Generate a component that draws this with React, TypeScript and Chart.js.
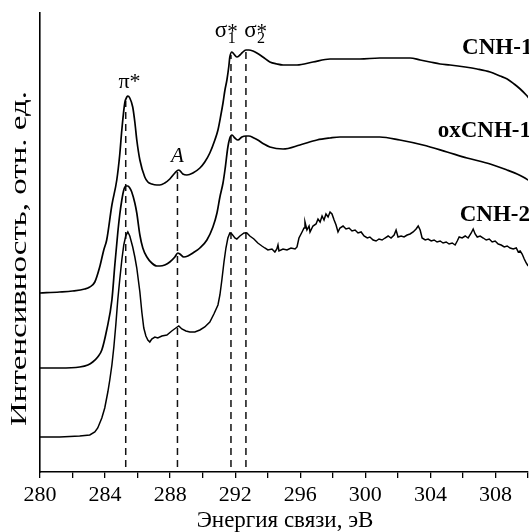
import React, { useEffect, useRef } from "react";
import { Chart, registerables } from "chart.js";

Chart.register(...registerables);

// ---- data (energy in eV, intensity in arbitrary units, curves already offset) ----
const energyCNH1 = [
  280.0, 281.2, 282.0, 282.75, 283.06, 283.37, 283.67, 283.92, 284.1, 284.42, 284.72, 284.9, 285.03, 285.21,
  285.34, 285.4, 285.52, 285.7, 285.83, 285.95, 286.14, 286.44, 286.63, 286.87, 287.18, 287.37, 287.67, 287.98,
  288.29, 288.53, 288.78, 289.03, 289.4, 289.83, 290.13, 290.44, 290.75, 290.94, 291.12, 291.25, 291.37, 291.49,
  291.61, 291.67, 291.8, 291.92, 292.1, 292.29, 292.41, 292.66, 292.84, 293.09, 293.33, 293.7, 294.13, 294.56,
  294.94, 295.8, 296.78, 297.83, 298.87, 299.66, 300.89, 301.82, 302.75, 303.37, 303.98, 304.6, 305.21, 306.14,
  306.87, 307.67, 308.28, 308.72, 309.15, 309.52, 309.89, 310.1,
];
const intensityCNH1 = [
  179, 180, 181, 183, 185, 190, 205, 222, 232, 267, 292, 317, 342, 369,
  375, 376, 374, 365, 350, 332, 312, 295, 290, 288, 287, 287, 289, 293,
  299, 302, 298, 297, 299, 304, 310, 319, 332, 342, 357, 369, 382, 392,
  406, 415, 420, 418, 415, 417, 419, 422, 422, 421, 419, 415, 410, 408,
  407, 407, 410, 413, 413, 413, 414, 414, 414, 412, 410, 408, 407, 405,
  403, 400, 396, 393, 388, 383, 377, 373,
];

const energyOxCNH1 = [
  280.0, 281.21, 282.44, 282.94, 283.24, 283.55, 283.8, 284.1, 284.42, 284.6, 284.78, 284.9, 285.03, 285.15,
  285.27, 285.4, 285.52, 285.64, 285.83, 285.95, 286.14, 286.32, 286.57, 286.87, 287.18, 287.37, 287.67, 287.98,
  288.29, 288.47, 288.6, 288.84, 289.09, 289.4, 289.83, 290.26, 290.63, 290.88, 291.06, 291.25, 291.37, 291.55,
  291.67, 291.8, 291.98, 292.17, 292.41, 292.66, 292.84, 293.15, 293.39, 293.76, 294.13, 294.94, 295.98, 297.03,
  297.83, 298.44, 299.66, 300.89, 302.12, 303.54, 305.02, 306.25, 307.67, 308.71, 309.33, 309.7, 310.1,
];
const intensityOxCNH1 = [
  104, 104, 105, 107, 110, 115, 122, 142, 172, 207, 239, 257, 272, 282,
  286, 286, 284, 280, 269, 259, 237, 224, 215, 209, 206, 206, 207, 210,
  215, 219, 218, 215, 216, 219, 224, 232, 245, 259, 275, 289, 302, 325,
  334, 337, 334, 332, 335, 336, 336, 334, 332, 328, 325, 323, 327, 332,
  334, 335, 335, 335, 332, 327, 320, 314, 308, 302, 298, 295, 291,
];

const energyCNH2 = [
  280.0, 281.21, 282.44, 283.06, 283.37, 283.55, 283.8, 283.98, 284.17, 284.29, 284.42, 284.54, 284.66, 284.78,
  284.9, 285.03, 285.15, 285.27, 285.4, 285.52, 285.7, 285.83, 285.95, 286.14, 286.26, 286.38, 286.51, 286.63,
  286.75, 286.87, 287.06, 287.24, 287.49, 287.8, 288.1, 288.35, 288.53, 288.72, 288.97, 289.21, 289.52, 289.83,
  290.13, 290.44, 290.69, 290.94, 291.06, 291.18, 291.31, 291.43, 291.55, 291.67, 291.8, 291.98, 292.1, 292.29,
  292.54, 292.72, 292.9, 293.15, 293.39, 293.64, 293.82, 294.01, 294.26, 294.44, 294.56, 294.63, 294.69, 294.94,
  295.18, 295.43, 295.68, 295.8, 295.92, 296.11, 296.23, 296.29, 296.41, 296.54, 296.6, 296.78, 296.97, 297.09,
  297.22, 297.34, 297.46, 297.58, 297.71, 297.83, 297.95, 298.08, 298.2, 298.32, 298.44, 298.63, 298.81, 299.0,
  299.18, 299.37, 299.55, 299.74, 299.92, 300.12, 300.28, 300.48, 300.66, 300.84, 301.03, 301.21, 301.4, 301.58,
  301.77, 301.89, 302.01, 302.2, 302.38, 302.57, 302.75, 302.94, 303.12, 303.25, 303.37, 303.49, 303.68, 303.86,
  304.05, 304.23, 304.41, 304.6, 304.78, 304.97, 305.15, 305.34, 305.52, 305.65, 305.77, 305.95, 306.14, 306.32,
  306.51, 306.63, 306.75, 306.88, 307.06, 307.25, 307.43, 307.62, 307.8, 307.98, 308.17, 308.35, 308.54, 308.72,
  308.9, 309.09, 309.28, 309.4, 309.52, 309.64, 309.77, 309.89, 310.01,
];
const intensityCNH2 = [
  35, 35, 36, 37, 40, 44, 54, 64, 80, 92, 107, 125, 147, 172,
  192, 212, 227, 236, 240, 236, 225, 215, 204, 180, 160, 144, 136, 132,
  130, 133, 135, 134, 136, 137, 141, 144, 146, 143, 141, 140, 140, 142,
  145, 150, 158, 167, 177, 192, 210, 224, 234, 239, 238, 234, 233, 236,
  239, 239, 236, 233, 229, 226, 224, 222, 223, 220, 223, 227, 221, 223,
  222, 224, 223, 225, 234, 240, 244, 250, 242, 246, 240, 246, 248, 253,
  250, 256, 252, 258, 255, 260, 258, 252, 247, 240, 244, 246, 243, 244,
  241, 242, 239, 240, 236, 234, 235, 232, 231, 233, 232, 234, 236, 234,
  237, 242, 235, 236, 235, 237, 238, 240, 243, 246, 242, 234, 232, 233,
  231, 232, 230, 231, 229, 230, 228, 229, 227, 231, 235, 234, 236, 234,
  239, 243, 238, 235, 236, 234, 232, 233, 230, 231, 228, 227, 225, 226,
  224, 223, 224, 220, 221, 218, 213, 209, 206,
];

const seriesNames = ["CNH-1", "oxCNH-1", "CNH-2"];
const nameEnergies = [305.95, 304.45, 305.8];
const nameIntensities = [418, 335, 251];

const dashEnergies = [285.27, 288.45, 291.74, 292.66];
const dashTops = [371, 300, 417, 420];
const dashBottom = 5;

const xTicks = [280, 284, 288, 292, 296, 300, 304, 308];
const xTitle = "Энергия связи, эВ";
const yTitle = "Интенсивность, отн. ед.";

const SERIF = '"Liberation Serif", "Times New Roman", serif';

const zip = (xs: number[], ys: number[]) => xs.map((x, i) => ({ x, y: ys[i] }));

const textPlugin = {
  id: "texts",
  afterDraw(chart: any) {
    const { ctx, chartArea, scales } = chart;
    const xs = scales.x;
    const ys = scales.y;
    ctx.save();
    ctx.fillStyle = "#000";
    ctx.textBaseline = "alphabetic";

    // series names
    ctx.font = `bold 23px ${SERIF}`;
    ctx.textAlign = "left";
    seriesNames.forEach((n, i) => {
      ctx.fillText(n, xs.getPixelForValue(nameEnergies[i]), ys.getPixelForValue(nameIntensities[i]));
    });

    // π*
    ctx.font = `22px ${SERIF}`;
    ctx.textAlign = "center";
    ctx.fillText("π*", xs.getPixelForValue(285.5), ys.getPixelForValue(384));

    // A
    ctx.font = `italic 21px ${SERIF}`;
    ctx.fillText("A", xs.getPixelForValue(288.45), ys.getPixelForValue(310));

    // σ1* σ2*
    const sig = (e: number, sub: string) => {
      const px = xs.getPixelForValue(e);
      const py = ys.getPixelForValue(435);
      ctx.textAlign = "left";
      ctx.font = `23px ${SERIF}`;
      ctx.fillText("σ", px, py);
      const w = ctx.measureText("σ").width;
      ctx.font = `16px ${SERIF}`;
      ctx.fillText(sub, px + w + 0.5, py + 6);
      ctx.font = `21px ${SERIF}`;
      ctx.fillText("*", px + w, py + 1);
    };
    sig(290.75, "1");
    sig(292.55, "2");

    // axis titles
    ctx.font = `23px ${SERIF}`;
    ctx.textAlign = "center";
    ctx.fillText(xTitle, (chartArea.left + chartArea.right) / 2 + 1, chartArea.bottom + 55);

    ctx.translate(20, (chartArea.top + chartArea.bottom) / 2 + 16);
    ctx.rotate(-Math.PI / 2);
    ctx.textBaseline = "middle";
    ctx.font = `24px ${SERIF}`;
    const w = ctx.measureText(yTitle).width;
    ctx.scale(335 / w, 1);
    ctx.fillText(yTitle, 0, 0);
    ctx.restore();
  },
};

export default function App() {
  const ref = useRef<HTMLCanvasElement | null>(null);

  useEffect(() => {
    document.body.style.margin = "0";
    const canvas = ref.current;
    if (!canvas) return;

    const curveStyle = {
      borderColor: "#000",
      borderWidth: 1.7,
      pointRadius: 0,
      fill: false,
    };

    const dashSets = dashEnergies.map((e, i) => ({
      data: [
        { x: e, y: dashBottom },
        { x: e, y: dashTops[i] },
      ],
      borderColor: "#111",
      borderWidth: 1.5,
      borderDash: [7, 5],
      pointRadius: 0,
      fill: false,
    }));

    const chart = new Chart(canvas, {
      type: "line",
      data: {
        datasets: [
          { ...curveStyle, data: zip(energyCNH1, intensityCNH1), cubicInterpolationMode: "monotone" },
          { ...curveStyle, data: zip(energyOxCNH1, intensityOxCNH1), cubicInterpolationMode: "monotone" },
          { ...curveStyle, data: zip(energyCNH2, intensityCNH2), borderWidth: 1.5 },
          ...dashSets,
        ],
      } as any,
      options: {
        responsive: false,
        animation: false,
        devicePixelRatio: 1,
        layout: { padding: { top: 13, right: 1, left: 0, bottom: 0 } },
        plugins: { legend: { display: false }, tooltip: { enabled: false } },
        scales: {
          x: {
            type: "linear",
            min: 280,
            max: 310,
            afterFit: (s: any) => {
              s.height = 60;
              s.paddingRight = 0;
              s.paddingLeft = 0;
            },
            afterBuildTicks: (s: any) => {
              const t = [];
              for (let v = 280; v <= 310; v += 2) t.push({ value: v });
              s.ticks = t;
            },
            ticks: {
              autoSkip: false,
              maxRotation: 0,
              color: "#000",
              padding: 4,
              font: { family: SERIF, size: 22 },
              callback: (v: any) => (xTicks.includes(Number(v)) ? String(v) : ""),
            },
            grid: {
              drawOnChartArea: false,
              drawTicks: true,
              tickLength: 6,
              color: "#000",
              lineWidth: 1.3,
            },
            border: { display: true, color: "#000", width: 1.6 },
          },
          y: {
            type: "linear",
            min: 0,
            max: 459,
            afterFit: (s: any) => {
              s.width = 40;
            },
            ticks: { display: false },
            grid: { display: false },
            border: { display: true, color: "#000", width: 1.6 },
          },
        },
      } as any,
      plugins: [textPlugin],
    });

    return () => chart.destroy();
  }, []);

  return (
    <div style={{ width: 529, height: 532, position: "relative" }}>
      <canvas ref={ref} width={529} height={532} style={{ display: "block" }} />
    </div>
  );
}
